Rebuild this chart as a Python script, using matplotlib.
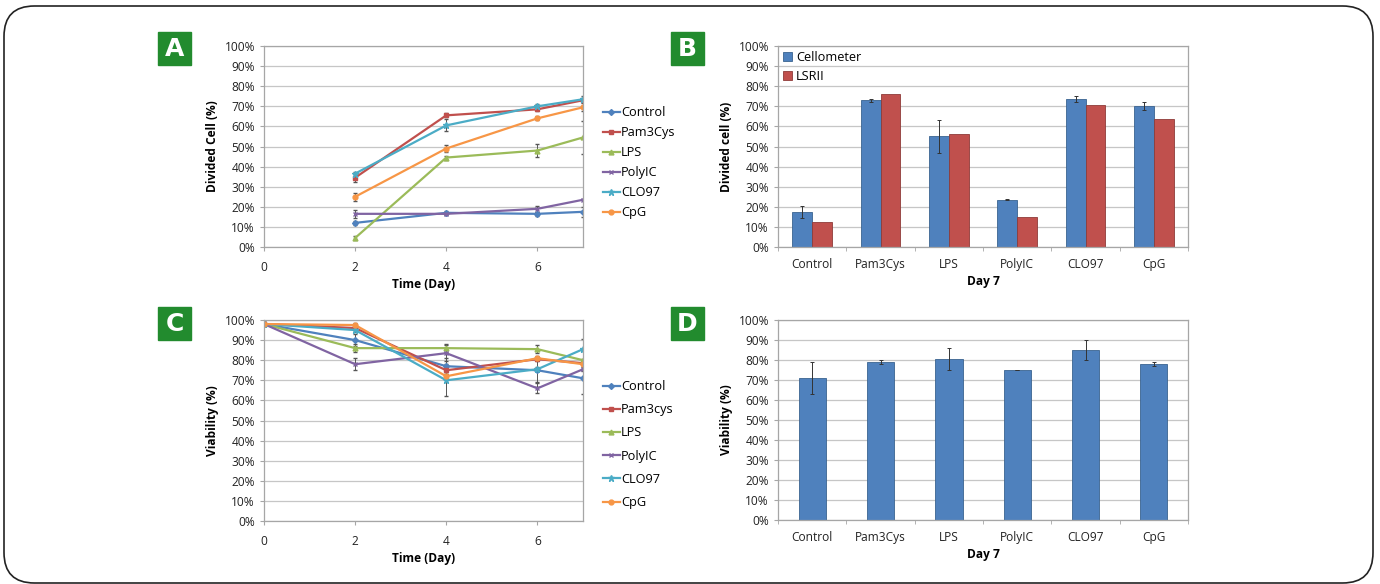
import matplotlib
matplotlib.use("Agg")
import matplotlib.pyplot as plt
import numpy as np
from matplotlib.patches import FancyBboxPatch, Rectangle
from matplotlib.ticker import PercentFormatter

plt.rcParams['font.family'] = ['Open Sans', 'DejaVu Sans']

# ---------------- data ----------------
series_A = ["Control", "Pam3Cys", "LPS", "PolyIC", "CLO97", "CpG"]
series_C = ["Control", "Pam3cys", "LPS", "PolyIC", "CLO97", "CpG"]
categories = ["Control", "Pam3Cys", "LPS", "PolyIC", "CLO97", "CpG"]

days_A = [2, 4, 6, 7]
divided_control = [12, 17, 16.5, 17.5]
divided_pam3cys = [34.5, 65.5, 68.5, 73]
divided_lps = [4.5, 44.5, 48, 54.5]
divided_polyic = [16.5, 16.5, 19, 23.5]
divided_clo97 = [36.5, 60.5, 70, 73.5]
divided_cpg = [25, 49, 64, 69.5]
err_div_control = [1, 0.8, 1, 2.5]
err_div_pam3cys = [2, 1, 1, 1]
err_div_lps = [0.8, 1, 3, 8]
err_div_polyic = [2, 0.5, 1.5, 0.3]
err_div_clo97 = [1, 3, 1, 1.5]
err_div_cpg = [2, 1.5, 1, 2]

days_C = [0, 2, 4, 6, 7]
viab_control = [98, 90, 77, 75, 71]
viab_pam3cys = [98, 96, 75, 80.5, 78.5]
viab_lps = [98, 86, 86, 85.5, 80]
viab_polyic = [98, 78, 83.5, 66, 75.5]
viab_clo97 = [98, 95, 70, 75.5, 85.5]
viab_cpg = [98, 97.5, 72, 81, 78]
err_viab_control = [1, 3, 4, 6, 8]
err_viab_pam3cys = [1, 1, 2, 1, 1]
err_viab_lps = [1, 2, 2, 2, 5.5]
err_viab_polyic = [1, 3, 4, 2.5, 0.3]
err_viab_clo97 = [1, 1, 8, 1, 5]
err_viab_cpg = [1, 1, 1, 1, 1.2]

cellometer = [17.5, 73, 55, 23.5, 73.5, 70]
cellometer_err = [3, 0.8, 8, 0.3, 1.5, 2]
lsrii = [12.5, 76, 56, 15, 70.5, 63.5]

viability_day7 = [71, 79, 80.5, 75, 85, 78]
viability_day7_err = [8, 1, 5.5, 0, 5, 1.2]

colors = ["#4F81BD", "#C0504D", "#9BBB59", "#8064A2", "#4BACC6", "#F79646"]
markers = ["D", "s", "^", "x", "*", "o"]
msizes = [3, 3.5, 3.5, 3.5, 4.5, 3.5]

W, H = 1380, 584
fig = plt.figure(figsize=(W / 100, H / 100), dpi=100)

def fbox(x0, y0, x1, y1):
    return [x0 / W, 1 - y1 / H, (x1 - x0) / W, (y1 - y0) / H]

GRID = "#C6C6C6"
FRAME = "#A6A6A6"
TFS = 8.6

def style_axes(ax):
    ax.set_ylim(0, 100)
    ax.set_yticks(np.arange(0, 101, 10))
    ax.yaxis.set_major_formatter(PercentFormatter(decimals=0))
    ax.grid(axis='y', color=GRID, linewidth=0.9)
    ax.set_axisbelow(True)
    for s in ax.spines.values():
        s.set_color(FRAME)
        s.set_linewidth(0.9)
    ax.tick_params(axis='both', labelsize=TFS, colors='#333333', length=3,
                   width=0.8, direction='out', color=FRAME)
    for lab in ax.get_xticklabels() + ax.get_yticklabels():
        lab.set_color('#222222')

def line_panel(ax, days, data, errs, names, ylabel, anchor, spacing):
    for i, (vals, e) in enumerate(zip(data, errs)):
        ax.errorbar(days, vals, yerr=e, color=colors[i], marker=markers[i],
                    markersize=msizes[i], linewidth=1.6, ecolor='#555555',
                    elinewidth=0.7, capsize=1.5, capthick=0.7, label=names[i],
                    markeredgewidth=1.0)
    ax.set_xlim(0, 7)
    ax.set_xticks([0, 2, 4, 6])
    style_axes(ax)
    ax.tick_params(axis='x', pad=7)
    ax.set_xlabel("Time (Day)", fontsize=TFS, fontweight='bold', labelpad=3)
    ax.set_ylabel(ylabel, fontsize=TFS, fontweight='bold', labelpad=4)
    handles, labels = ax.get_legend_handles_labels()
    handles = [h[0] for h in handles]
    ax.legend(handles, labels, loc='upper left', frameon=False,
              bbox_to_anchor=anchor, bbox_transform=fig.transFigure,
              fontsize=TFS + 0.6, handlelength=1.3, handletextpad=0.1,
              labelspacing=spacing, borderaxespad=0, borderpad=0)

axA = fig.add_axes(fbox(264, 46, 583, 247))
line_panel(axA, days_A,
           [divided_control, divided_pam3cys, divided_lps, divided_polyic, divided_clo97, divided_cpg],
           [err_div_control, err_div_pam3cys, err_div_lps, err_div_polyic, err_div_clo97, err_div_cpg],
           series_A, "Divided Cell (%)", (603 / W, 1 - 106 / H), 0.55)

axC = fig.add_axes(fbox(264, 320, 583, 521))
line_panel(axC, days_C,
           [viab_control, viab_pam3cys, viab_lps, viab_polyic, viab_clo97, viab_cpg],
           [err_viab_control, err_viab_pam3cys, err_viab_lps, err_viab_polyic, err_viab_clo97, err_viab_cpg],
           series_C, "Viability (%)", (603 / W, 1 - 380 / H), 0.8)

# ---- bar panel B ----
x = np.arange(len(categories))
axB = fig.add_axes(fbox(778, 46, 1188, 247))
bw = 0.29
axB.bar(x - bw / 2, cellometer, bw, yerr=cellometer_err, color="#4F81BD",
        edgecolor="#3A6390", linewidth=0.6, label="Cellometer",
        error_kw=dict(elinewidth=0.7, capsize=1.5, capthick=0.7, ecolor='#333333'))
axB.bar(x + bw / 2, lsrii, bw, color="#C0504D", edgecolor="#8E3B39",
        linewidth=0.6, label="LSRII")
axB.set_xlim(-0.5, len(categories) - 0.5)
style_axes(axB)
axB.set_xticks(x)
axB.set_xticklabels(categories)
axB.tick_params(axis='x', length=0, pad=8)
axB.set_xticks(np.arange(-0.5, len(categories)), minor=True)
axB.tick_params(axis='x', which='minor', length=3, color=FRAME)
axB.set_xlabel("Day 7", fontsize=TFS, fontweight='bold', labelpad=3)
axB.set_ylabel("Divided cell (%)", fontsize=TFS, fontweight='bold', labelpad=4)
axB.legend(loc='upper left', frameon=False, fontsize=TFS + 0.6,
           handlelength=0.7, handleheight=0.7, handletextpad=0.3,
           labelspacing=0.45, borderaxespad=0.2, borderpad=0.2)

# ---- bar panel D ----
axD = fig.add_axes(fbox(778, 320, 1188, 520))
axD.bar(x, viability_day7, 0.4, yerr=viability_day7_err, color="#4F81BD",
        edgecolor="#3A6390", linewidth=0.6,
        error_kw=dict(elinewidth=0.7, capsize=1.5, capthick=0.7, ecolor='#333333'))
axD.set_xlim(-0.5, len(categories) - 0.5)
style_axes(axD)
axD.set_xticks(x)
axD.set_xticklabels(categories)
axD.tick_params(axis='x', length=0, pad=8)
axD.set_xticks(np.arange(-0.5, len(categories)), minor=True)
axD.tick_params(axis='x', which='minor', length=3, color=FRAME)
axD.set_xlabel("Day 7", fontsize=TFS, fontweight='bold', labelpad=3)
axD.set_ylabel("Viability (%)", fontsize=TFS, fontweight='bold', labelpad=4)

# ---- panel labels ----
GREEN = "#228B2E"
for lab, (px, py) in zip("ABCD", [(158, 32), (671, 32), (158, 307), (671, 307)]):
    fig.patches.append(Rectangle((px / W, 1 - (py + 33) / H), 33 / W, 33 / H,
                                 transform=fig.transFigure, color=GREEN, zorder=5))
    fig.text((px + 16.5) / W, 1 - (py + 17) / H, lab, color='white',
             fontsize=18, fontweight='bold', ha='center', va='center',
             family='DejaVu Sans', zorder=6)

# ---- rounded border ----
border = FancyBboxPatch((4 / W, 1 - 583 / H), (1373 - 4) / W, (583 - 6) / H,
                        boxstyle="round,pad=0,rounding_size=0.022",
                        transform=fig.transFigure, facecolor='none',
                        edgecolor='#222222', linewidth=1.2,
                        mutation_aspect=W / H)
fig.patches.append(border)

fig.savefig("out.png", dpi=100)
